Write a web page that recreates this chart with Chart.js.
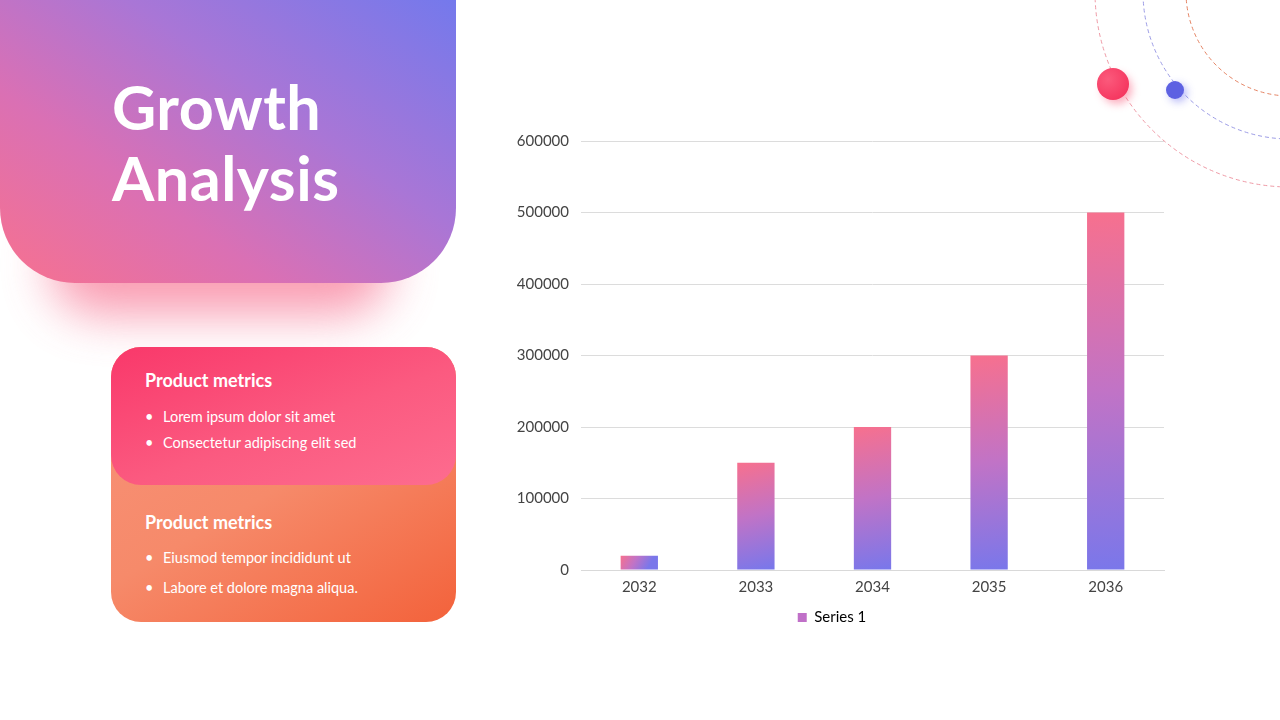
<!DOCTYPE html>
<html>
<head>
<meta charset="utf-8">
<script src="https://cdn.jsdelivr.net/npm/chart.js@4.4.0/dist/chart.umd.min.js"></script>
<style>
  html,body{margin:0;padding:0;width:1280px;height:720px;overflow:hidden;background:#fff;font-family:Lato,"Open Sans",sans-serif;}
  .shadow{position:absolute;left:50px;top:215px;width:340px;height:100px;border-radius:60px;background:#f8849f;filter:blur(24px);opacity:.8;}
  .hero{position:absolute;left:0;top:0;width:456px;height:283px;border-radius:0 0 75px 75px;
        background:linear-gradient(215deg,#7479ec 0%,#a976d6 38%,#da70b4 68%,#f7718f 100%);}
  .hero h1{position:absolute;left:112px;top:71px;margin:0;color:#fff;font-weight:700;font-size:61px;line-height:71px;letter-spacing:0.5px;}
  .card2{position:absolute;left:111px;top:347px;width:345px;height:275px;border-radius:30px;
        background:linear-gradient(150deg,#f8927a 0%,#f68a6a 50%,#f3623b 100%);}
  .card1{position:absolute;left:111px;top:347px;width:345px;height:138px;border-radius:30px;
        background:linear-gradient(160deg,#f9386a 0%,#fb5a80 55%,#fd6c8f 100%);}
  .txt{position:absolute;left:145px;color:#fff;}
  .txt h3{margin:0;font-size:18px;font-weight:700;}
  .txt ul{margin:0;padding:0;list-style:none;}
  .txt li{font-size:14.5px;position:relative;padding-left:18px;}
  .txt li:before{content:"•";position:absolute;left:0;top:0;}
  #wrap{position:absolute;left:500px;top:120px;width:670px;height:515px;}
  svg.deco{position:absolute;left:0;top:0;}
</style>
</head>
<body>
<div class="shadow"></div>
<div class="hero"><h1>Growth<br>Analysis</h1></div>
<div class="card2"></div>
<div class="card1"></div>
<div class="txt" style="top:369px">
  <h3>Product metrics</h3>
  <ul style="margin-top:13px"><li style="line-height:26px">Lorem ipsum dolor sit amet</li><li style="line-height:26px">Consectetur adipiscing elit sed</li></ul>
</div>
<div class="txt" style="top:511px">
  <h3>Product metrics</h3>
  <ul style="margin-top:10px"><li style="line-height:30px">Eiusmod tempor incididunt ut</li><li style="line-height:30px">Labore et dolore magna aliqua.</li></ul>
</div>
<svg class="deco" width="1280" height="720">
  <defs>
    <radialGradient id="pb" cx="35%" cy="35%" r="70%"><stop offset="0" stop-color="#fb5a7c"/><stop offset="1" stop-color="#f5365f"/></radialGradient>
    <filter id="glow" x="-100%" y="-100%" width="300%" height="300%"><feGaussianBlur stdDeviation="4"/></filter>
  </defs>
  <circle cx="1290" cy="-8" r="195" fill="none" stroke="#ef9aa6" stroke-width="1" stroke-dasharray="4 3"/>
  <circle cx="1290" cy="-8" r="147" fill="none" stroke="#9c9ce6" stroke-width="1" stroke-dasharray="4 3"/>
  <circle cx="1290" cy="-8" r="104" fill="none" stroke="#e58464" stroke-width="1" stroke-dasharray="4 3"/>
  <circle cx="1117" cy="89" r="15" fill="#f9597a" opacity=".5" filter="url(#glow)"/>
  <circle cx="1113" cy="84" r="16" fill="url(#pb)"/>
  <circle cx="1178" cy="93" r="9" fill="#6a6ef0" opacity=".5" filter="url(#glow)"/>
  <circle cx="1175" cy="90" r="9" fill="#5d61e2"/>
</svg>
<div id="wrap"><canvas id="c"></canvas></div>
<script>
const categories = ["2032","2033","2034","2035","2036"];
const series1 = [20000,150000,200000,300000,500000];
const seriesName = "Series 1";
const yTicks = [0,100000,200000,300000,400000,500000,600000];

function barFill(ctx){
  const chart = ctx.chart;
  const xs = chart.scales.x, ys = chart.scales.y;
  if(!xs || !ys || ctx.dataIndex === undefined) return '#b475d3';
  const v = ctx.raw;
  const cx = xs.getPixelForValue(ctx.dataIndex);
  const half = (xs.width / categories.length) * 0.32 / 2;
  const top = ys.getPixelForValue(v), bot = ys.getPixelForValue(0);
  if(!isFinite(cx) || !isFinite(top)) return '#b475d3';
  const g = chart.ctx.createLinearGradient(cx-half, top, cx+half*0.4, bot);
  g.addColorStop(0,'#f7708e');
  g.addColorStop(0.5,'#c173c6');
  g.addColorStop(1,'#7a77ea');
  return g;
}

new Chart(document.getElementById('c'), {
  type:'bar',
  data:{labels:categories, datasets:[{label:seriesName, data:series1, backgroundColor:barFill,
        categoryPercentage:1, barPercentage:0.32}]},
  options:{
    responsive:true, maintainAspectRatio:false, animation:false,
    layout:{padding:{top:0,right:6,bottom:0,left:0}},
    plugins:{
      tooltip:{enabled:false},
      legend:{position:'bottom', labels:{boxWidth:9, boxHeight:9, padding:6, color:'#444',
        font:{family:'Lato', size:15},
        generateLabels:(chart)=>[{text:seriesName, fillStyle:'#c070c8', strokeStyle:'rgba(0,0,0,0)', lineWidth:0, datasetIndex:0}]}}
    },
    scales:{
      x:{grid:{display:false, drawTicks:false}, border:{color:'#d9d9d9'},
         ticks:{color:'#444', font:{family:'Lato', size:15}, padding:8}},
      y:{min:0, max:600000, afterBuildTicks:(s)=>{s.ticks = yTicks.map(v=>({value:v}));},
         afterFit:(s)=>{s.width = 81;},
         grid:{color:'#dcdcdc', drawTicks:false}, border:{display:false},
         ticks:{color:'#444', font:{family:'Lato', size:15}, padding:12, callback:(v)=>String(v)}}
    }
  }
});
</script>
</body>
</html>
